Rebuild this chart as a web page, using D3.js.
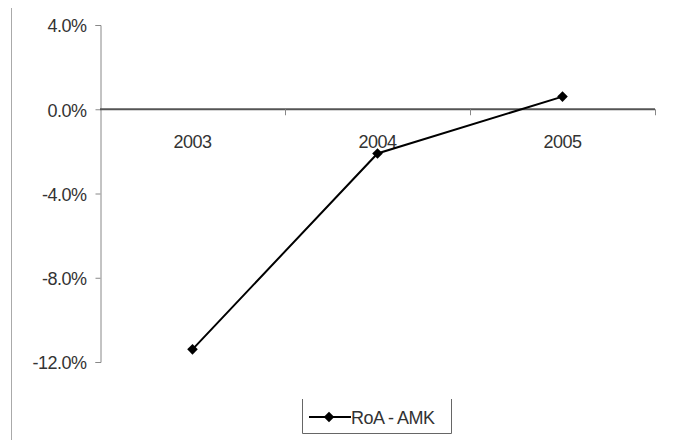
<!DOCTYPE html>
<html><head><meta charset="utf-8">
<script src="https://cdn.jsdelivr.net/npm/d3@7"></script>
<style>body{margin:0;background:#fff}svg{display:block}text{font-family:"Liberation Sans",Arial,sans-serif}</style>
</head><body>
<svg id="c" width="679" height="440"></svg>
<script>
const categories = ["2003", "2004", "2005"];
const values = [-0.114, -0.021, 0.006];
const yTicks = [0.04, 0, -0.04, -0.08, -0.12];
const seriesName = "RoA - AMK";

const svg = d3.select("#c");
const x = d3.scaleBand().domain(categories).range([100, 655]);
const y = d3.scaleLinear().domain([-0.12, 0.04]).range([362, 25]);
const fmt = v => d3.format(".1%")(v).replace("\u2212", "-");
const FS = 18;

// outer left frame line
svg.append("line").attr("x1", 11.5).attr("x2", 11.5).attr("y1", 8).attr("y2", 440)
  .attr("stroke", "#aaa").attr("stroke-width", 1);

// y axis
const ya = svg.append("g").attr("transform", "translate(100.5,0)")
  .call(d3.axisLeft(y).tickValues(yTicks).tickFormat(fmt).tickSize(5).tickPadding(9));
ya.select(".domain").attr("stroke", "#888");
ya.selectAll(".tick line").attr("stroke", "#888");
ya.selectAll("text").attr("font-size", FS).attr("fill", "#333").attr("dy", "0.38em")
  .attr("letter-spacing", -0.5);

// x axis at zero
const xa = svg.append("g").attr("transform", `translate(0,${y(0)})`);
xa.append("line").attr("x1", 100).attr("x2", x.range()[1]).attr("y1", 0).attr("y2", 0)
  .attr("stroke", "#555").attr("stroke-width", 2);
const boundaries = categories.map(c => x(c) + x.bandwidth());
xa.selectAll(".bt").data(boundaries).enter().append("line")
  .attr("x1", d => d + 0.5).attr("x2", d => d + 0.5).attr("y1", 0).attr("y2", 6)
  .attr("stroke", "#888");
xa.selectAll(".lab").data(categories).enter().append("text")
  .attr("x", d => x(d) + x.bandwidth() / 2).attr("y", 39)
  .attr("text-anchor", "middle").attr("font-size", FS).attr("fill", "#333")
  .attr("letter-spacing", -0.5)
  .text(d => d);

// line
const pts = categories.map((c, i) => [x(c) + x.bandwidth() / 2, y(values[i])]);
svg.append("path").attr("d", d3.line()(pts)).attr("fill", "none")
  .attr("stroke", "#000").attr("stroke-width", 2);
const diamond = d3.symbol().type(d3.symbolSquare).size(56);
svg.selectAll(".m").data(pts).enter().append("path")
  .attr("d", diamond).attr("transform", d => `translate(${d[0]},${d[1]}) rotate(45)`)
  .attr("fill", "#000");

// legend
const lg = svg.append("g");
lg.append("path").attr("d", "M302.5,399V433.5H451.5V399").attr("fill", "none").attr("stroke", "#666");
lg.append("line").attr("x1", 309).attr("x2", 351).attr("y1", 417).attr("y2", 417)
  .attr("stroke", "#000").attr("stroke-width", 2);
lg.append("path").attr("d", diamond).attr("transform", "translate(329,417) rotate(45)").attr("fill", "#000");
lg.append("text").attr("x", 351).attr("y", 424).attr("font-size", FS).attr("fill", "#333")
  .attr("letter-spacing", -0.5).text(seriesName);
</script>
</body></html>
